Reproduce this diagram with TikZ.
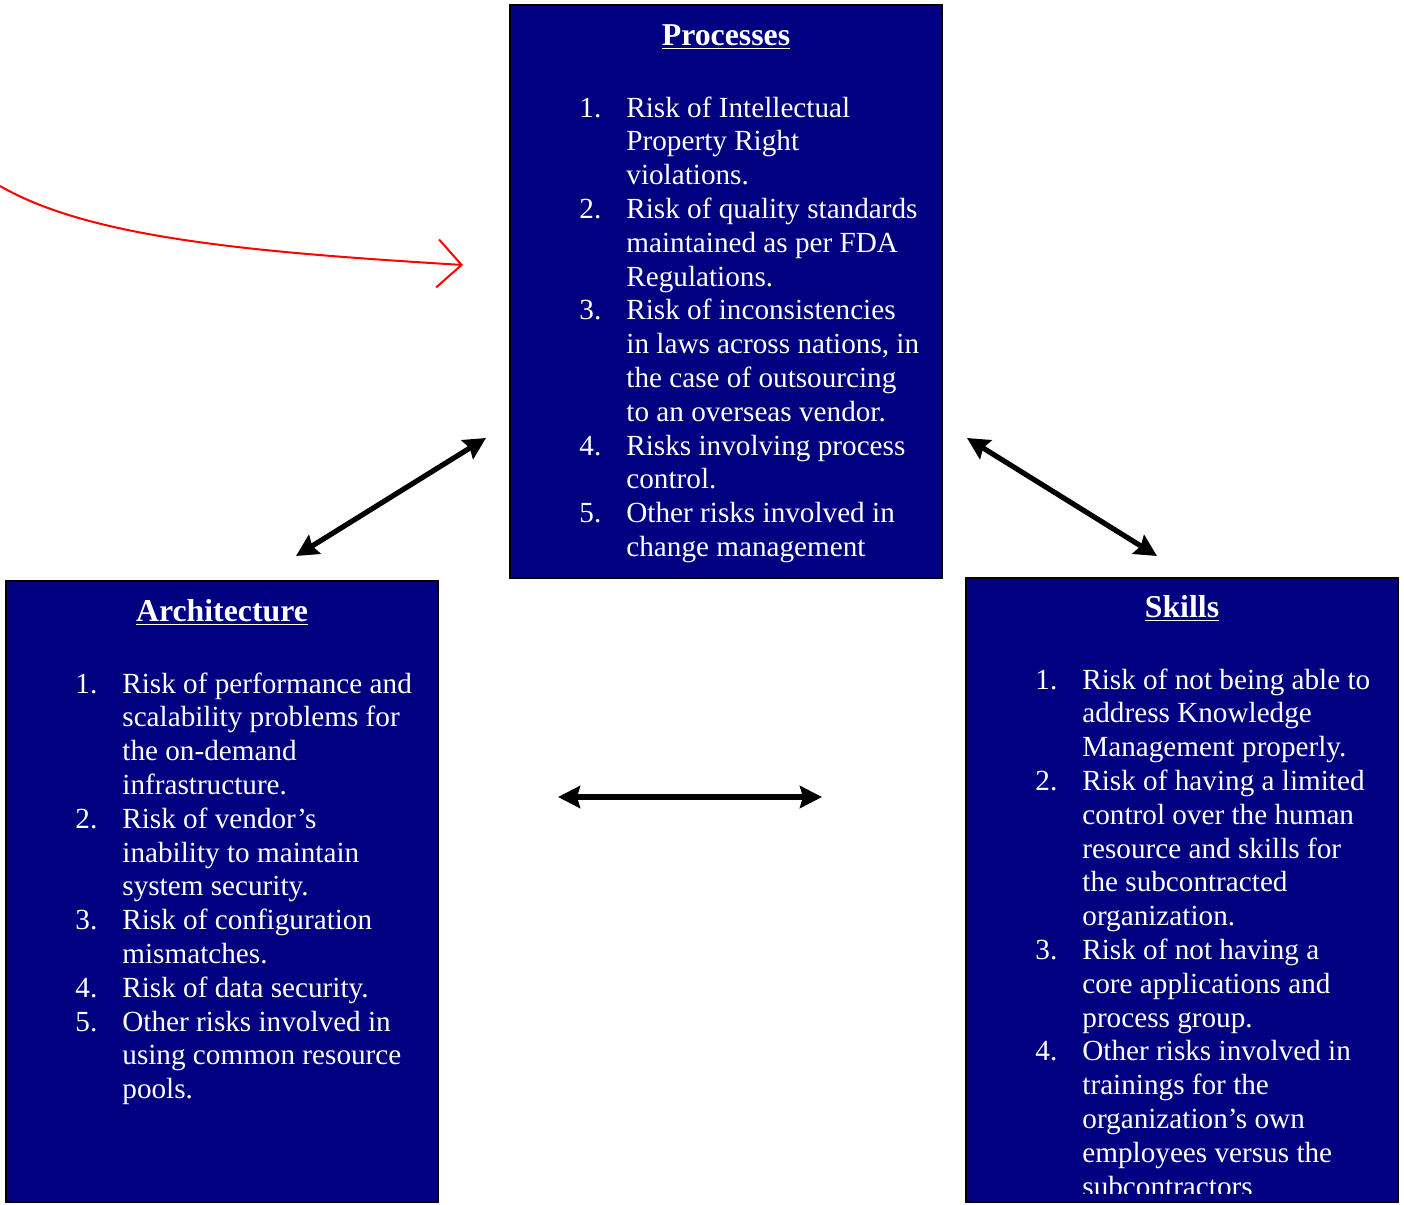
\documentclass[tikz,border=0pt]{standalone}
\usepackage{fontspec}
\setmainfont{Liberation Serif}
\usetikzlibrary{arrows.meta}
\definecolor{navybox}{RGB}{0,0,128}
\newcommand{\listfont}{\fontsize{14.6}{16.9}\selectfont}
\newcommand{\titlefont}{\fontsize{15.9}{18}\selectfont\bfseries}
\begin{document}
\begin{tikzpicture}[x=0.5pt,y=-0.5pt,
  riskbox/.style={draw=black, line width=1pt, fill=navybox, inner sep=0pt, minimum width=216pt},
  boxtitle/.style={anchor=base, text=white, inner sep=0pt, font=\titlefont},
  risklist/.style={anchor=base west, text=white, inner sep=0pt, font=\listfont},
  link/.style={line width=2.6pt, {Stealth[length=11pt,width=11pt,inset=1.5pt]}-{Stealth[length=11pt,width=11pt,inset=1.5pt]}},
  redlink/.style={red, line width=1pt, -{Straight Barb[length=12pt,width=24pt,line width=1pt]}}
]
\useasboundingbox (0,0) rectangle (1404,1205);

% boxes
\node[riskbox, minimum height=286.5pt] (proc) at (726,291.5) {};
\node[riskbox, minimum height=310.5pt] (arch) at (222,891.5) {};
\node[riskbox, minimum height=312pt] (skill) at (1182,890) {};

% titles
\node[boxtitle] (proctitle) at (726,45) {\underline{Processes}};
\node[boxtitle] (archtitle) at (222,621) {\underline{Architecture}};
\node[boxtitle] (skilltitle) at (1182,617) {\underline{Skills}};

% lists
\node[risklist] (proclist) at (579,117) {\renewcommand\arraystretch{1}\begin{tabular}[t]{@{}p{23.5pt}@{}l@{}}
1. & Risk of Intellectual\\
   & Property Right\\
   & violations.\\
2. & Risk of quality standards\\
   & maintained as per FDA\\
   & Regulations.\\
3. & Risk of inconsistencies\\
   & in laws across nations, in\\
   & the case of outsourcing\\
   & to an overseas vendor.\\
4. & Risks involving process\\
   & control.\\
5. & Other risks involved in\\
   & change management
\end{tabular}};

\node[risklist] (archlist) at (75,693) {\renewcommand\arraystretch{1}\begin{tabular}[t]{@{}p{23.5pt}@{}l@{}}
1. & Risk of performance and\\
   & scalability problems for\\
   & the on-demand\\
   & infrastructure.\\
2. & Risk of vendor’s\\
   & inability to maintain\\
   & system security.\\
3. & Risk of configuration\\
   & mismatches.\\
4. & Risk of data security.\\
5. & Other risks involved in\\
   & using common resource\\
   & pools.
\end{tabular}};

\begin{scope}
\clip (967,579) rectangle (1397,1193);
\node[risklist] (skilllist) at (1035,689) {\renewcommand\arraystretch{1}\begin{tabular}[t]{@{}p{23.5pt}@{}l@{}}
1. & Risk of not being able to\\
   & address Knowledge\\
   & Management properly.\\
2. & Risk of having a limited\\
   & control over the human\\
   & resource and skills for\\
   & the subcontracted\\
   & organization.\\
3. & Risk of not having a\\
   & core applications and\\
   & process group.\\
4. & Other risks involved in\\
   & trainings for the\\
   & organization’s own\\
   & employees versus the\\
   & subcontractors
\end{tabular}};
\end{scope}

% arrow end points
\coordinate (la) at (296,556);
\coordinate (lb) at (486,438);
\coordinate (ra) at (967,438);
\coordinate (rb) at (1157,556);
\coordinate (ha) at (558,797);
\coordinate (hb) at (822,797);
\coordinate (redstart) at (0,186);
\coordinate (redend) at (463,265);

\draw[link] (la) -- (lb);
\draw[link] (ra) -- (rb);
\draw[link] (ha) -- (hb);
\draw[redlink] (redstart) .. controls (90,238) and (250,252) .. (redend);
\end{tikzpicture}
\end{document}
